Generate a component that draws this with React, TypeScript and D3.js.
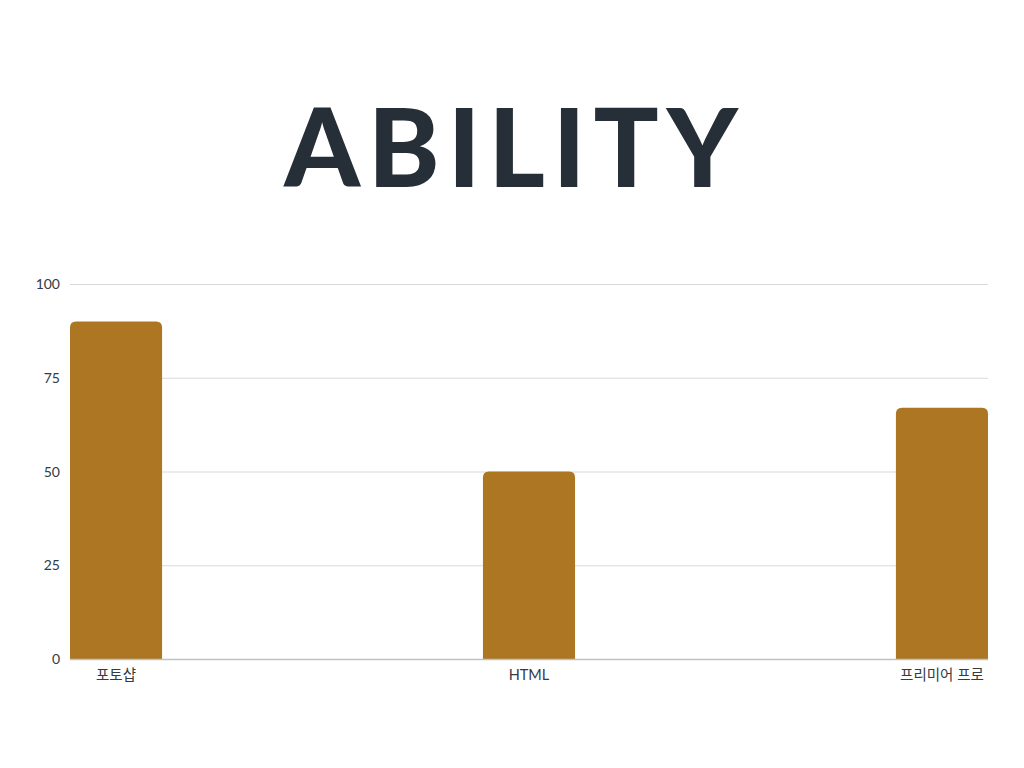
import React, { useEffect, useRef } from 'react';
import * as d3 from 'd3';

// 데이터
const skills = ['포토샵', 'HTML', '프리미어 프로'];
const levels = [90, 50, 67];
const yTicks = [0, 25, 50, 75, 100];

const App = () => {
  const svgRef = useRef<SVGSVGElement>(null);

  useEffect(() => {
    const width = 1024;
    const height = 768;
    const margin = { top: 284, right: 36, bottom: 109, left: 70 };

    const svg = d3.select(svgRef.current)
      .attr('width', width)
      .attr('height', height);
    svg.selectAll('*').remove();

    // 제목
    svg.append('text')
      .attr('x', 515)
      .attr('y', 187)
      .attr('text-anchor', 'middle')
      .style('font-family', 'Lato, sans-serif')
      .style('font-weight', 900)
      .style('font-size', '108px')
      .style('letter-spacing', '8px')
      .style('fill', '#262f38')
      .text('ABILITY');

    const x = d3.scaleBand<string>()
      .domain(skills)
      .range([margin.left, width - margin.right])
      .paddingInner(0.777)
      .paddingOuter(0);

    const y = d3.scaleLinear()
      .domain([0, 100])
      .range([height - margin.bottom, margin.top]);

    // 격자
    svg.append('g')
      .selectAll('line')
      .data(yTicks.filter(d => d > 0))
      .enter().append('line')
      .attr('x1', margin.left)
      .attr('x2', width - margin.right)
      .attr('y1', d => y(d) + 0.5)
      .attr('y2', d => y(d) + 0.5)
      .style('stroke', '#d9d9d9')
      .style('stroke-width', 1);

    // 막대 (위쪽만 둥글게)
    const r = 6;
    svg.append('g')
      .selectAll('path')
      .data(levels)
      .enter().append('path')
      .attr('d', (d, i) => {
        const x0 = x(skills[i])!;
        const w = x.bandwidth();
        const y0 = y(d);
        const yb = y(0);
        return `M${x0},${yb} L${x0},${y0 + r} Q${x0},${y0} ${x0 + r},${y0} L${x0 + w - r},${y0} Q${x0 + w},${y0} ${x0 + w},${y0 + r} L${x0 + w},${yb} Z`;
      })
      .style('fill', '#ad7622');

    // 기준선
    svg.append('line')
      .attr('x1', margin.left)
      .attr('x2', width - margin.right)
      .attr('y1', y(0) + 0.5)
      .attr('y2', y(0) + 0.5)
      .style('stroke', '#bfc2c5')
      .style('stroke-width', 1.5);

    // y축 라벨
    svg.append('g')
      .selectAll('text')
      .data(yTicks)
      .enter().append('text')
      .attr('x', 60)
      .attr('y', d => y(d) + 5)
      .attr('text-anchor', 'end')
      .style('font-family', 'Lato, sans-serif')
      .style('font-size', '14px')
      .style('fill', '#333b44')
      .text(d => d);

    // x축 라벨
    svg.append('g')
      .selectAll('text')
      .data(skills)
      .enter().append('text')
      .attr('x', d => x(d)! + x.bandwidth() / 2)
      .attr('y', 680)
      .attr('text-anchor', 'middle')
      .style('font-family', 'Lato, "Noto Sans CJK KR", sans-serif')
      .style('font-size', '14.5px')
      .style('fill', '#333b44')
      .text(d => d);
  }, []);

  return (
    <div style={{ position: 'absolute', left: 0, top: 0 }}>
      <svg ref={svgRef}></svg>
    </div>
  );
};

export default App;
